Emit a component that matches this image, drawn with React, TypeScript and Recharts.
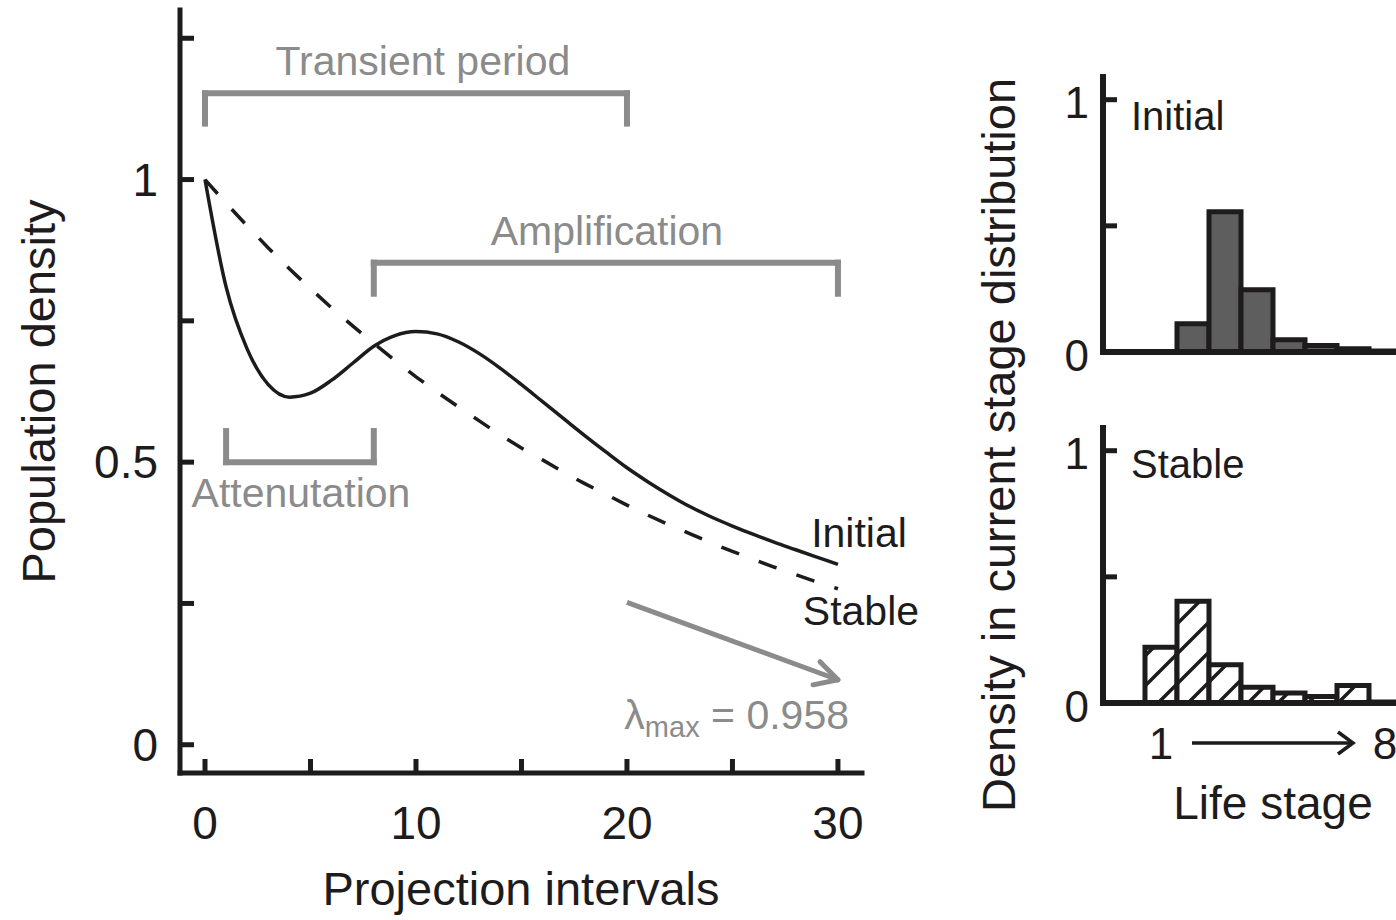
import React from "react";
import {
  LineChart,
  Line,
  BarChart,
  Bar,
  XAxis,
  YAxis,
  ReferenceLine,
  ReferenceDot,
} from "recharts";

// ---- data ----
const intervals = [
  0, 1, 2, 3, 4, 5, 6, 7, 8, 9, 10, 11, 12, 13, 14, 15, 16, 17, 18, 19, 20, 21,
  22, 23, 24, 25, 26, 27, 28, 29, 30,
];
const initialDensity = [
  1.0, 0.81, 0.7, 0.637, 0.615, 0.622, 0.645, 0.675, 0.705, 0.724, 0.731, 0.727,
  0.713, 0.692, 0.666, 0.637, 0.607, 0.577, 0.547, 0.518, 0.49, 0.465, 0.442,
  0.421, 0.403, 0.387, 0.372, 0.358, 0.345, 0.332, 0.319,
];
const stableDensity = [
  1.0, 0.958, 0.918, 0.879, 0.842, 0.807, 0.773, 0.741, 0.71, 0.68, 0.651, 0.624,
  0.598, 0.573, 0.548, 0.525, 0.504, 0.482, 0.462, 0.443, 0.424, 0.406, 0.389,
  0.373, 0.357, 0.342, 0.328, 0.314, 0.301, 0.288, 0.276,
];
const xTicks = [0, 5, 10, 15, 20, 25, 30];
const yTicks = [0, 0.25, 0.5, 0.75, 1, 1.25];
const yLabelled = [0, 0.5, 1];

const stages = ["1", "2", "3", "4", "5", "6", "7", "8"];
const initialStage = [0, 0.112, 0.556, 0.247, 0.049, 0.026, 0.013, 0.004];
const stableStage = [0.221, 0.403, 0.152, 0.062, 0.04, 0.026, 0.069, 0.004];
const panelTicks = [0, 0.5, 1];

const series = intervals.map((t, i) => ({
  t,
  initial: initialDensity[i],
  stable: stableDensity[i],
}));
const stageTable = stages.map((s, i) => ({
  stage: s,
  initial: initialStage[i],
  stable: stableStage[i],
}));

// annotation brackets: [x1, x2, bar y, tip y]
const brackets: [number, number, number, number][] = [
  [0, 20, 1.1525, 1.099],
  [8, 30, 0.853, 0.798],
  [1, 8, 0.5, 0.555],
];

const INK = "#1d1b1c";
const GREY = "#8b8b8b";
const FONT = "'Liberation Sans', Arial, Helvetica, sans-serif";

function MainXTick(p: any) {
  const { x, y, payload } = p;
  const v = payload.value;
  return (
    <g>
      <line x1={x} x2={x} y1={y} y2={y - 14} stroke={INK} strokeWidth={5} />
      {v % 10 === 0 && (
        <text x={x} y={y + 50} textAnchor="middle" dominantBaseline="central" fontSize={46} fill={INK}>
          {v}
        </text>
      )}
    </g>
  );
}

function MainYTick(p: any) {
  const { x, y, payload } = p;
  const v = payload.value;
  return (
    <g>
      <line x1={x} x2={x + 14} y1={y} y2={y} stroke={INK} strokeWidth={5} />
      {yLabelled.includes(v) && (
        <text x={x - 22} y={y} textAnchor="end" dominantBaseline="central" fontSize={46} fill={INK}>
          {v}
        </text>
      )}
    </g>
  );
}

function PanelYTick(p: any) {
  const { x, y, payload } = p;
  const v = payload.value;
  return (
    <g>
      <line x1={x} x2={x + 14} y1={y} y2={y} stroke={INK} strokeWidth={5} />
      {v !== 0.5 && (
        <text x={x - 14} y={y + 3} textAnchor="end" dominantBaseline="central" fontSize={44} fill={INK}>
          {v}
        </text>
      )}
    </g>
  );
}

function StageTick(p: any) {
  const { x, y, payload } = p;
  const v = payload.value;
  if (v !== "1" && v !== "8") return <g />;
  const ty = y + 40;
  return (
    <g>
      <text x={x} y={ty} textAnchor="middle" dominantBaseline="central" fontSize={44} fill={INK}>
        {v}
      </text>
      {v === "1" && (
        <g stroke={INK} strokeWidth={3.5} fill="none">
          <line x1={x + 31} x2={x + 192} y1={ty} y2={ty} />
          <polyline points={`${x + 177},${ty - 11} ${x + 192},${ty} ${x + 177},${ty + 11}`} />
        </g>
      )}
    </g>
  );
}

function LambdaNote(p: any) {
  const { viewBox } = p;
  const x = viewBox.x + (viewBox.width || 0) / 2;
  const y = viewBox.y + (viewBox.height || 0) / 2;
  return (
    <text x={x} y={y} textAnchor="middle" dominantBaseline="central" fontSize={41} fill={GREY}>
      λ
      <tspan fontSize={29} dy={12}>max</tspan>
      <tspan dy={-12}> = 0.958</tspan>
    </text>
  );
}

const note = (x: number, y: number, text: string, color: string) => (
  <ReferenceDot
    key={text}
    x={x}
    y={y}
    r={0}
    fill="none"
    stroke="none"
    ifOverflow="visible"
    label={{ value: text, position: "center", fill: color, fontSize: 41 }}
  />
);

const bracket = (b: [number, number, number, number], i: number) => {
  const [x1, x2, yb, yt] = b;
  const common = { stroke: GREY, strokeWidth: 6, strokeLinecap: "square" as const, ifOverflow: "visible" as const };
  return [
    <ReferenceLine key={`b${i}a`} segment={[{ x: x1, y: yt }, { x: x1, y: yb }]} {...common} />,
    <ReferenceLine key={`b${i}b`} segment={[{ x: x1, y: yb }, { x: x2, y: yb }]} {...common} />,
    <ReferenceLine key={`b${i}c`} segment={[{ x: x2, y: yb }, { x: x2, y: yt }]} {...common} />,
  ];
};

function StagePanel({ top, dataKey, fill, showStages }: { top: number; dataKey: string; fill: string; showStages: boolean }) {
  const bottomHeight = showStages ? 128 : 30;
  const height = 275 + 17 + bottomHeight;
  return (
    <div style={{ position: "absolute", left: 1030, top }}>
      <BarChart
        width={423}
        height={height}
        data={stageTable}
        margin={{ top: 17, right: 10, left: 0, bottom: 0 }}
        barCategoryGap={0}
      >
        <defs>
          <pattern id="hatch" patternUnits="userSpaceOnUse" width={30} height={30}>
            <rect width={30} height={30} fill="#fff" />
            <path d="M-5,5 L5,-5 M0,30 L30,0 M25,35 L35,25" stroke={INK} strokeWidth={3.5} />
          </pattern>
        </defs>
        <XAxis
          xAxisId="top"
          orientation="top"
          dataKey="stage"
          height={0}
          tick={false}
          tickLine={false}
          padding={{ left: 42, right: 42 }}
          axisLine={{ stroke: INK, strokeWidth: 6, strokeLinecap: "square" }}
        />
        <XAxis
          dataKey="stage"
          height={bottomHeight}
          interval={0}
          tickSize={0}
          tickMargin={0}
          tickLine={false}
          tick={showStages ? <StageTick /> : false}
          padding={{ left: 42, right: 42 }}
          axisLine={{ stroke: INK, strokeWidth: 6, strokeLinecap: "square" }}
          label={
            showStages
              ? { value: "Life stage", position: "insideBottom", offset: 12, fontSize: 46, fill: INK }
              : undefined
          }
        />
        <YAxis
          type="number"
          domain={[0, 1.09]}
          ticks={panelTicks}
          interval={0}
          width={73}
          tickSize={0}
          tickMargin={0}
          tickLine={false}
          allowDataOverflow
          tick={<PanelYTick />}
          axisLine={{ stroke: INK, strokeWidth: 6, strokeLinecap: "square" }}
        />
        <Bar dataKey={dataKey} fill={fill} stroke={INK} strokeWidth={5} isAnimationActive={false} />
      </BarChart>
    </div>
  );
}

export default function App() {
  return (
    <div
      style={{
        position: "fixed",
        left: 0,
        top: 0,
        width: 1396,
        height: 920,
        overflow: "hidden",
        background: "#fff",
        fontFamily: FONT,
      }}
    >
      <div style={{ position: "absolute", left: 0, top: 0 }}>
        <LineChart width={960} height={920} data={series} margin={{ top: 10, right: 98, left: 0, bottom: 0 }}>
          <XAxis
            type="number"
            dataKey="t"
            domain={[-1.185, 31.14]}
            ticks={xTicks}
            interval={0}
            allowDataOverflow
            height={147}
            tickSize={0}
            tickMargin={0}
            tickLine={false}
            tick={<MainXTick />}
            axisLine={{ stroke: INK, strokeWidth: 5, strokeLinecap: "square" }}
            label={{ value: "Projection intervals", position: "insideBottom", offset: 15, fontSize: 47, fill: INK }}
          />
          <YAxis
            type="number"
            domain={[-0.05, 1.3]}
            ticks={yTicks}
            interval={0}
            allowDataOverflow
            width={180}
            tickSize={0}
            tickMargin={0}
            tickLine={false}
            tick={<MainYTick />}
            axisLine={{ stroke: INK, strokeWidth: 5, strokeLinecap: "square" }}
            label={{
              value: "Population density",
              angle: -90,
              position: "insideLeft",
              offset: 38,
              fontSize: 47,
              fill: INK,
              textAnchor: "middle",
              style: { textAnchor: "middle" },
            }}
          />
          {brackets.map(bracket)}
          <ReferenceLine
            segment={[{ x: 20, y: 0.252 }, { x: 30, y: 0.115 }]}
            stroke={GREY}
            strokeWidth={5}
            ifOverflow="visible"
          />
          <ReferenceLine
            segment={[{ x: 29.15, y: 0.147 }, { x: 30, y: 0.115 }]}
            stroke={GREY}
            strokeWidth={5}
            strokeLinecap="round"
            ifOverflow="visible"
          />
          <ReferenceLine
            segment={[{ x: 28.82, y: 0.106 }, { x: 30, y: 0.115 }]}
            stroke={GREY}
            strokeWidth={5}
            strokeLinecap="round"
            ifOverflow="visible"
          />
          <Line
            type="linear"
            dataKey="stable"
            stroke={INK}
            strokeWidth={3.5}
            strokeDasharray="19 21"
            dot={false}
            isAnimationActive={false}
          />
          <Line
            type="monotone"
            dataKey="initial"
            stroke={INK}
            strokeWidth={3.5}
            dot={false}
            isAnimationActive={false}
          />
          {note(10.33, 1.211, "Transient period", GREY)}
          {note(19.05, 0.91, "Amplification", GREY)}
          {note(4.55, 0.447, "Attenutation", GREY)}
          {note(31.0, 0.376, "Initial", INK)}
          {note(31.09, 0.2376, "Stable", INK)}
          <ReferenceDot
            x={25.2}
            y={0.053}
            r={0}
            fill="none"
            stroke="none"
            ifOverflow="visible"
            label={<LambdaNote />}
          />
        </LineChart>
      </div>

      <StagePanel top={60} dataKey="initial" fill="#5e5e5e" showStages={false} />
      <StagePanel top={411} dataKey="stable" fill="url(#hatch)" showStages={true} />

      <svg
        width={1396}
        height={920}
        style={{ position: "absolute", left: 0, top: 0, pointerEvents: "none" }}
      >
        <text
          transform="translate(998,445) rotate(-90)"
          textAnchor="middle"
          dominantBaseline="central"
          fontSize={47}
          fill={INK}
        >
          Density in current stage distribution
        </text>
        <text x={1131} y={130} fontSize={40} fill={INK}>
          Initial
        </text>
        <text x={1131} y={478} fontSize={40} fill={INK}>
          Stable
        </text>
      </svg>
    </div>
  );
}
